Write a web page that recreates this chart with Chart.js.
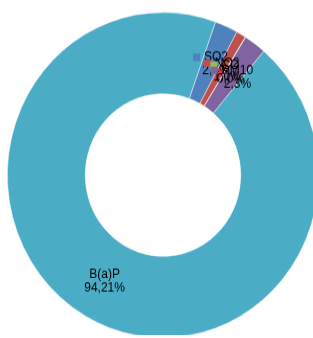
<!DOCTYPE html>
<html>
<head>
<meta charset="utf-8">
<script src="https://cdn.jsdelivr.net/npm/chart.js@4/dist/chart.umd.min.js"></script>
<style>
  html, body { margin: 0; padding: 0; background: #fff; overflow: hidden; }
  #wrap { width: 326px; height: 335px; transform: scale(1, 1.045); transform-origin: 0 0; }
</style>
</head>
<body>
<div id="wrap"><canvas id="chart" width="326" height="335"></canvas></div>
<script>
// Pollutant shares (%)
const categories = ["SO2", "NO2", "CO", "PM10", "B(a)P"];
const shares = [2.4, 1.0, 0.04, 2.3, 94.21];
const colors = ["#4f81bd", "#c0504d", "#9bbb59", "#8064a2", "#4bacc6"];

const fmt = v => (v >= 10 ? v.toFixed(2) : v.toFixed(1)).replace(".", ",") + "%";

// Excel-style labels: legend key left of the name, percentage below
const sliceLabels = {
  id: "sliceLabels",
  afterDatasetsDraw(chart) {
    const ctx = chart.ctx;
    const meta = chart.getDatasetMeta(0);
    ctx.save();
    ctx.font = "12px 'Liberation Sans', Arial, sans-serif";
    ctx.textBaseline = "middle";
    ctx.textAlign = "center";
    meta.data.forEach((arc, i) => {
      const p = arc.getCenterPoint();
      const name = categories[i];
      const pct = fmt(shares[i]);
      const key = i < 4 ? 7 : 0;
      const tx = p.x + (key ? (key + 4) / 2 : 0);
      const y1 = p.y - 6, y2 = p.y + 7;
      if (key) {
        const nameW = ctx.measureText(name).width;
        ctx.fillStyle = colors[i];
        ctx.fillRect(tx - nameW / 2 - key - 4, y1 - key / 2, key, key);
      }
      ctx.fillStyle = "#000";
      ctx.fillText(name, tx, y1);
      ctx.fillText(pct, tx, y2);
    });
    ctx.restore();
  }
};

new Chart(document.getElementById("chart"), {
  type: "doughnut",
  data: {
    labels: categories,
    datasets: [{
      data: shares,
      backgroundColor: colors,
      borderColor: "rgba(255,255,255,0.6)",
      borderWidth: 0.75
    }]
  },
  options: {
    responsive: false,
    animation: false,
    cutout: "50%",
    rotation: 19.7,
    layout: { padding: { top: 11.5, bottom: 11.5, left: 7, right: 7 } },
    plugins: {
      legend: { display: false },
      tooltip: { enabled: false }
    }
  },
  plugins: [sliceLabels]
});
</script>
</body>
</html>
